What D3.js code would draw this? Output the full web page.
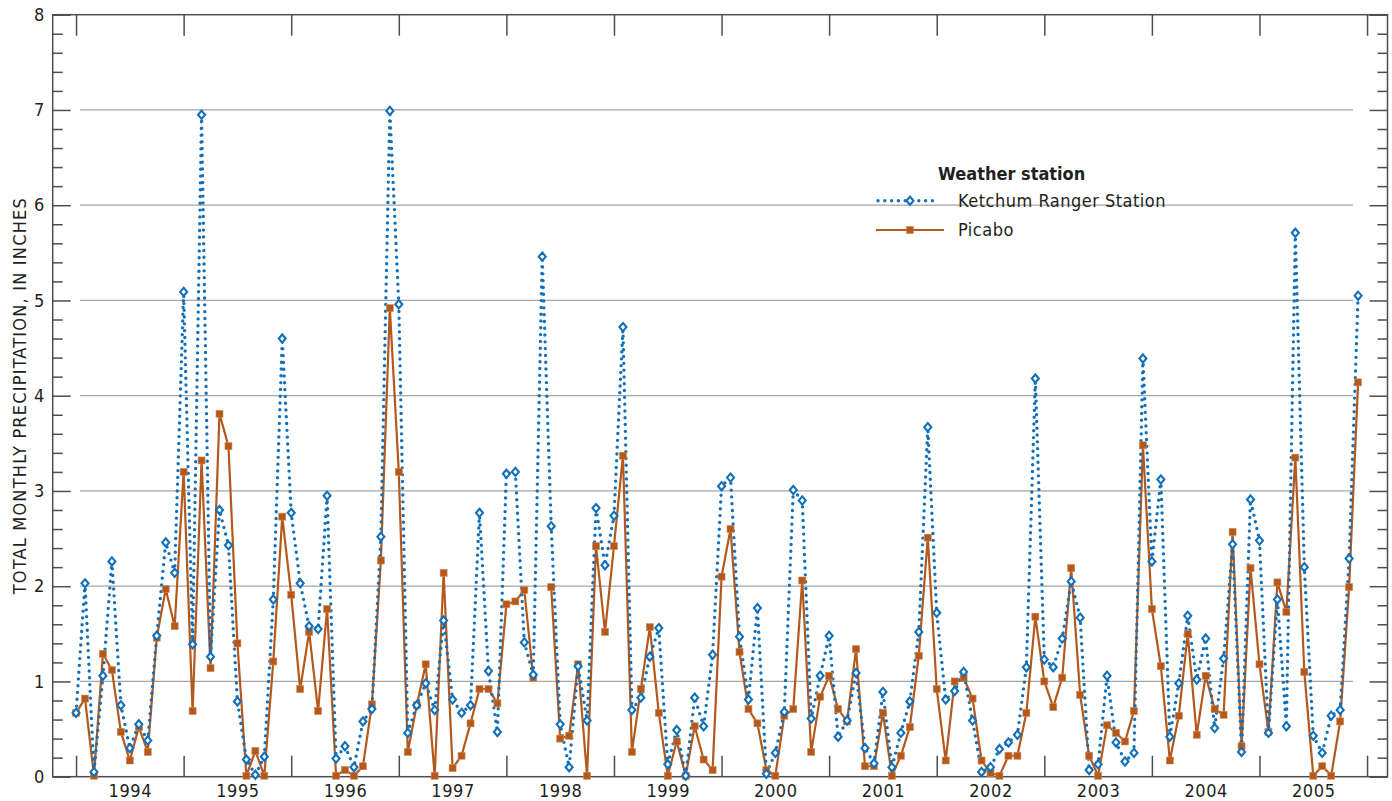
<!DOCTYPE html>
<html lang="en">
  <head>
    <meta charset="utf-8">
    <title>Total monthly precipitation - Ketchum Ranger Station and Picabo</title>
    <script src="https://cdn.jsdelivr.net/npm/d3@7"></script>
    <style type="text/css">

body {
  margin: 0;
  background: #fff;
}

svg {
  font-family: "Liberation Sans Narrow", "Arial Narrow", "DejaVu Sans Condensed", sans-serif;
  fill: #231f20;
}

.frame {
  fill: none;
  stroke: #4d4d4d;
  stroke-width: 1.5px;
}

.grid line {
  stroke: #a6a6a6;
  stroke-width: 1.3px;
}

.axis path {
  display: none;
}

.axis line {
  stroke: #4d4d4d;
  stroke-width: 1.5px;
}

.axis text {
  font-size: 18px;
  fill: #231f20;
}

.ketchum-line {
  fill: none;
  stroke: #1170b9;
  stroke-width: 3.4px;
  stroke-linecap: round;
  stroke-dasharray: 0 6.8;
}

.ketchum-dot {
  fill: #fff;
  stroke: #1170b9;
  stroke-width: 2.1px;
}

.picabo-line {
  fill: none;
  stroke: #b5581c;
  stroke-width: 2.2px;
}

.picabo-dot {
  fill: #b5581c;
  stroke: #d08a55;
  stroke-width: 0.6px;
}

.legend text {
  font-size: 18px;
  letter-spacing: 0.5px;
}

.legend .title {
  font-weight: bold;
  letter-spacing: 0px;
}

    </style>
  </head>

  <body>
    <div id="mainCanvas"></div>

    <script>
      // year labels along the bottom (each year spans tick to tick)
      var years = [1994, 1995, 1996, 1997, 1998, 1999, 2000, 2001, 2002, 2003, 2004, 2005];

      // monthly totals, inches, Jan 1994 .. Dec 2005
      var ketchum = [
        0.67, 2.03, 0.05, 1.06, 2.26, 0.75, 0.30, 0.55, 0.38, 1.48, 2.46, 2.14,
        5.09, 1.39, 6.95, 1.26, 2.80, 2.43, 0.79, 0.18, 0.02, 0.21, 1.86, 4.60,
        2.77, 2.03, 1.58, 1.55, 2.95, 0.19, 0.32, 0.10, 0.58, 0.71, 2.52, 6.99,
        4.96, 0.46, 0.75, 0.98, 0.70, 1.64, 0.81, 0.67, 0.75, 2.77, 1.11, 0.47,
        3.18, 3.20, 1.41, 1.07, 5.46, 2.63, 0.55, 0.10, 1.16, 0.59, 2.82, 2.22,
        2.74, 4.72, 0.70, 0.83, 1.26, 1.56, 0.13, 0.49, 0.01, 0.83, 0.53, 1.28,
        3.05, 3.14, 1.47, 0.81, 1.77, 0.03, 0.25, 0.68, 3.01, 2.90, 0.61, 1.06,
        1.48, 0.42, 0.59, 1.09, 0.30, 0.14, 0.89, 0.10, 0.46, 0.79, 1.52, 3.67,
        1.72, 0.81, 0.90, 1.10, 0.59, 0.05, 0.10, 0.29, 0.36, 0.44, 1.15, 4.18,
        1.23, 1.15, 1.45, 2.05, 1.67, 0.07, 0.13, 1.06, 0.36, 0.16, 0.25, 4.39,
        2.26, 3.12, 0.42, 0.98, 1.69, 1.02, 1.45, 0.51, 1.24, 2.44, 0.26, 2.91,
        2.48, 0.46, 1.86, 0.53, 5.71, 2.20, 0.43, 0.25, 0.64, 0.70, 2.29, 5.05
      ];

      var picabo = [
        0.67, 0.82, 0.01, 1.29, 1.12, 0.47, 0.17, 0.52, 0.26, 1.46, 1.97, 1.58,
        3.20, 0.69, 3.32, 1.14, 3.81, 3.47, 1.40, 0.01, 0.27, 0.01, 1.21, 2.73,
        1.91, 0.92, 1.52, 0.69, 1.76, 0.01, 0.07, 0.01, 0.11, 0.76, 2.27, 4.92,
        3.20, 0.26, 0.75, 1.18, 0.01, 2.14, 0.09, 0.22, 0.56, 0.92, 0.92, 0.77,
        1.81, 1.84, 1.96, 1.04, null, 1.99, 0.40, 0.43, 1.18, 0.01, 2.42, 1.52,
        2.42, 3.37, 0.26, 0.92, 1.57, 0.67, 0.01, 0.37, 0.01, 0.53, 0.18, 0.07,
        2.10, 2.60, 1.31, 0.71, 0.56, 0.07, 0.01, 0.64, 0.71, 2.06, 0.26, 0.84,
        1.06, 0.71, 0.58, 1.34, 0.11, 0.11, 0.67, 0.01, 0.22, 0.52, 1.27, 2.51,
        0.92, 0.17, 1.00, 1.04, 0.82, 0.17, 0.04, 0.01, 0.22, 0.22, 0.67, 1.68,
        1.00, 0.73, 1.04, 2.19, 0.86, 0.22, 0.01, 0.54, 0.46, 0.37, 0.69, 3.48,
        1.76, 1.16, 0.17, 0.64, 1.50, 0.44, 1.06, 0.71, 0.65, 2.57, 0.32, 2.19,
        1.18, 0.47, 2.04, 1.73, 3.35, 1.10, 0.01, 0.11, 0.01, 0.58, 1.99, 4.14
      ];

      var yMajor = [0, 1, 2, 3, 4, 5, 6, 7, 8];
      var yGrid = [1, 2, 3, 4, 5, 6, 7];
      var seriesNames = ["Ketchum Ranger Station", "Picabo"];

      var margin = {top: 14.7, right: 4.5, bottom: 24.3, left: 52.7};
      var width = 1392 - margin.left - margin.right;
      var height = 801 - margin.top - margin.bottom;

      var x = d3.scaleLinear()
        .domain([1993.783, 2006.19])
        .range([0, width]);

      var y = d3.scaleLinear()
        .domain([0, 8])
        .range([height, 0]);

      // minor ticks every 0.2 in, skipping the whole inches
      var yMinor = d3.range(0, 40).filter(function(k) { return k % 5 != 0; }).map(function(k) { return k / 5; });
      var yearTicks = years.concat([years[years.length - 1] + 1]);

      function toPoints(values) {
        return values.map(function(v, i) { return {t: years[0] + i / 12, v: v}; });
      }
      var ketchumPts = toPoints(ketchum);
      var picaboPts = toPoints(picabo);

      var svg = d3.select("#mainCanvas").append("svg")
          .attr("width", 1392)
          .attr("height", 801)
        .append("g")
          .attr("transform", "translate(" + margin.left + "," + margin.top + ")");

      // gridlines stop short of the frame ticks
      svg.append("g")
          .attr("class", "grid")
        .selectAll("line")
        .data(yGrid)
        .enter().append("line")
          .attr("x1", 27.3)
          .attr("x2", width - 34.5)
          .attr("y1", function(d) { return y(d); })
          .attr("y2", function(d) { return y(d); });

      // inward ticks on all four sides
      svg.append("g")
          .attr("class", "axis")
        .call(d3.axisLeft(y).tickValues(yMajor).tickSize(-18).tickPadding(8.5).tickFormat(d3.format("d")));

      svg.append("g")
          .attr("class", "axis")
        .call(d3.axisLeft(y).tickValues(yMinor).tickSize(-10).tickFormat(""));

      svg.append("g")
          .attr("class", "axis")
          .attr("transform", "translate(" + width + ",0)")
        .call(d3.axisRight(y).tickValues(yMajor).tickSize(-18).tickFormat(""));

      svg.append("g")
          .attr("class", "axis")
          .attr("transform", "translate(" + width + ",0)")
        .call(d3.axisRight(y).tickValues(yMinor).tickSize(-10).tickFormat(""));

      svg.append("g")
          .attr("class", "axis")
          .attr("transform", "translate(0," + height + ")")
        .call(d3.axisBottom(x).tickValues(yearTicks).tickSize(-21).tickFormat(""));

      svg.append("g")
          .attr("class", "axis")
        .call(d3.axisTop(x).tickValues(yearTicks).tickSize(-21).tickFormat(""));

      // year labels sit in the middle of each year
      svg.append("g")
          .attr("class", "axis years")
          .attr("transform", "translate(0," + height + ")")
        .call(d3.axisBottom(x).tickValues(years.map(function(d) { return d + 0.5; })).tickSize(0).tickPadding(7.5)
          .tickFormat(function(d) { return String(Math.floor(d)); }))
        .selectAll("text")
          .attr("letter-spacing", "0.6px");

      svg.selectAll(".axis text")
          .attr("font-family", null)
          .attr("font-size", null);
      svg.selectAll(".axis")
          .attr("font-family", null)
          .attr("font-size", null);

      svg.append("rect")
          .attr("class", "frame")
          .attr("width", width)
          .attr("height", height);

      svg.append("text")
          .attr("text-anchor", "middle")
          .attr("font-size", "18px")
          .attr("letter-spacing", "1.2px")
          .attr("transform", "translate(" + (-27) + "," + (height / 2) + ")rotate(-90)")
          .text("TOTAL MONTHLY PRECIPITATION, IN INCHES");

      // Picabo: solid line, filled squares
      var picaboLine = d3.line()
        .defined(function(d) { return d.v != null; })
        .x(function(d) { return x(d.t); })
        .y(function(d) { return y(d.v); });

      svg.append("path")
          .datum(picaboPts)
          .attr("class", "picabo-line")
          .attr("d", picaboLine);

      // Ketchum: dotted line, open diamonds
      var ketchumLine = d3.line()
        .x(function(d) { return x(d.t); })
        .y(function(d) { return y(d.v); });

      svg.append("path")
          .datum(ketchumPts)
          .attr("class", "ketchum-line")
          .attr("d", ketchumLine);

      var sq = 7;
      svg.append("g").selectAll("rect")
        .data(picaboPts.filter(function(d) { return d.v != null; }))
        .enter().append("rect")
          .attr("class", "picabo-dot")
          .attr("x", function(d) { return x(d.t) - sq / 2; })
          .attr("y", function(d) { return y(d.v) - sq / 2; })
          .attr("width", sq)
          .attr("height", sq);

      var diamond = "M0,-4.1L3.5,0L0,4.1L-3.5,0Z";
      svg.append("g").selectAll("path")
        .data(ketchumPts)
        .enter().append("path")
          .attr("class", "ketchum-dot")
          .attr("transform", function(d) { return "translate(" + x(d.t) + "," + y(d.v) + ")"; })
          .attr("d", diamond);

      // legend
      var legend = svg.append("g")
          .attr("class", "legend")
          .attr("transform", "translate(" + (876 - margin.left) + "," + (174 - margin.top) + ")");

      legend.append("text")
          .attr("class", "title")
          .attr("x", 62)
          .attr("y", 0)
          .attr("dy", "0.36em")
          .text("Weather station");

      var k = legend.append("g").attr("transform", "translate(0,26.7)");
      k.append("line")
          .attr("class", "ketchum-line")
          .attr("x1", 2).attr("x2", 62);
      k.append("path")
          .attr("class", "ketchum-dot")
          .attr("transform", "translate(34,0)")
          .attr("d", diamond);
      k.append("text")
          .attr("x", 82)
          .attr("dy", "0.36em")
          .text(seriesNames[0]);

      var p = legend.append("g").attr("transform", "translate(0,56)");
      p.append("line")
          .attr("class", "picabo-line")
          .attr("x1", 0).attr("x2", 68);
      p.append("rect")
          .attr("class", "picabo-dot")
          .attr("x", 34 - sq / 2).attr("y", -sq / 2)
          .attr("width", sq).attr("height", sq);
      p.append("text")
          .attr("x", 82)
          .attr("dy", "0.36em")
          .text(seriesNames[1]);
    </script>
  </body>
</html>
